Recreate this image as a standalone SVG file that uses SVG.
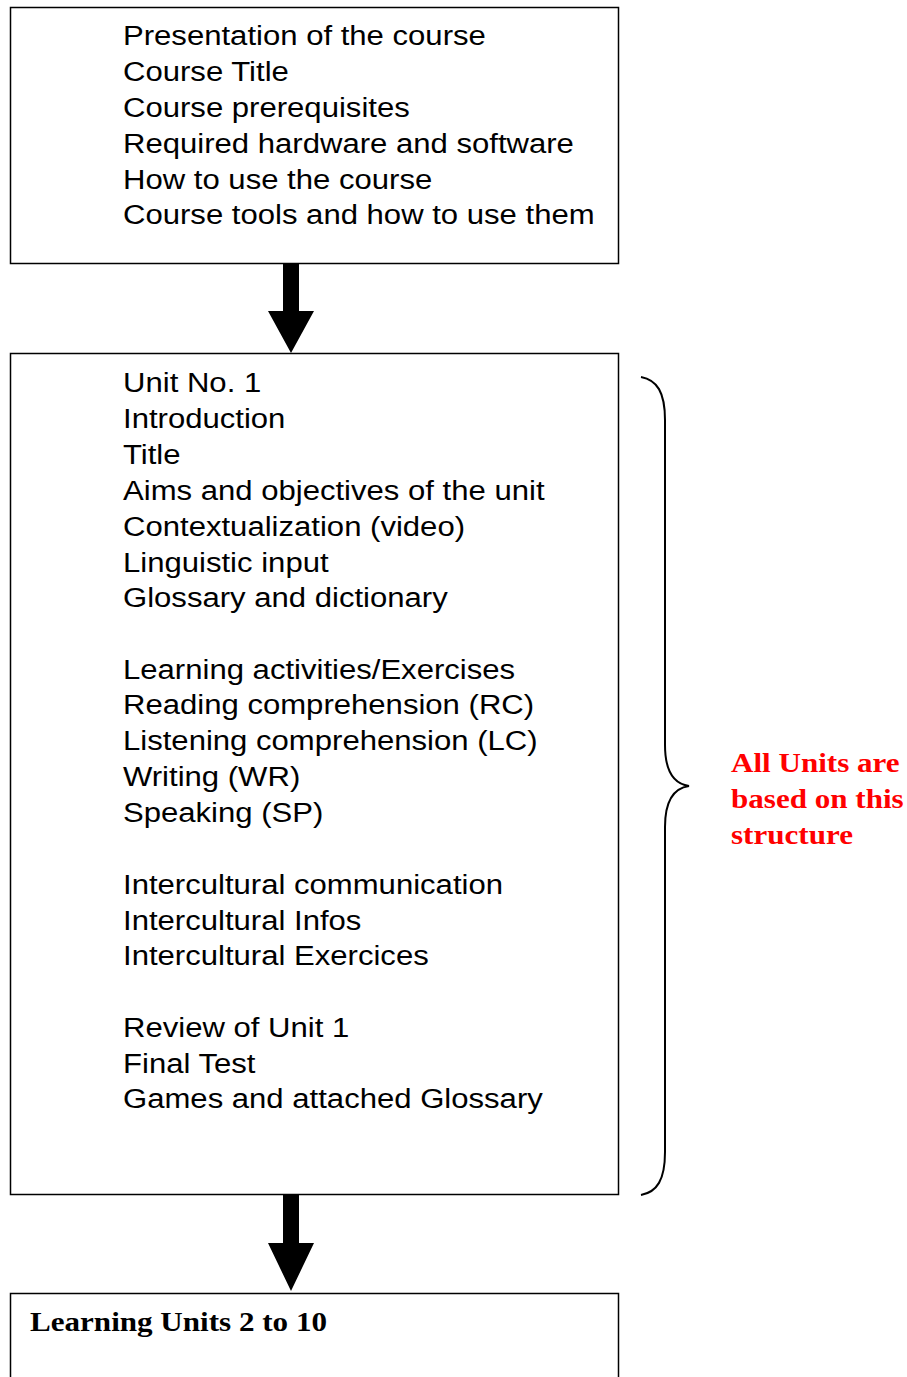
<svg xmlns="http://www.w3.org/2000/svg" width="907" height="1377" viewBox="0 0 907 1377">
<style>
.box{fill:#fff;stroke:#000;stroke-width:1.5}
.t{font-family:"Liberation Sans",Arial,sans-serif;font-size:28px;fill:#000}
.r{font-family:"Liberation Serif","Times New Roman",serif;font-size:28px;font-weight:bold;fill:#ff0000}
.b{font-family:"Liberation Serif","Times New Roman",serif;font-size:28px;font-weight:bold;fill:#000}
</style>
<rect width="907" height="1377" fill="#fff"/>
<g id="connectors">
<polygon points="283,264 299,264 299,311 314,311 291,353 268,311 283,311" fill="#000"/>
<polygon points="283,1195 299,1195 299,1243 314,1243 291,1291 268,1243 283,1243" fill="#000"/>
</g>
<g id="node-course">
<rect class="box" x="10.5" y="7.5" width="608" height="256"/>
<g transform="translate(123,0) scale(1.11,1)">
<text class="t" x="0" y="45">Presentation of the course</text>
<text class="t" x="0" y="81">Course Title</text>
<text class="t" x="0" y="117">Course prerequisites</text>
<text class="t" x="0" y="153">Required hardware and software</text>
<text class="t" x="0" y="189">How to use the course</text>
<text class="t" x="0" y="224">Course tools and how to use them</text>
</g>
</g>
<g id="node-unit1">
<rect class="box" x="10.5" y="353.5" width="608" height="841"/>
<g transform="translate(123,0) scale(1.11,1)">
<text class="t" x="0" y="392">Unit No. 1</text>
<text class="t" x="0" y="428">Introduction</text>
<text class="t" x="0" y="464">Title</text>
<text class="t" x="0" y="500">Aims and objectives of the unit</text>
<text class="t" x="0" y="536">Contextualization (video)</text>
<text class="t" x="0" y="572">Linguistic input</text>
<text class="t" x="0" y="607">Glossary and dictionary</text>
<text class="t" x="0" y="679">Learning activities/Exercises</text>
<text class="t" x="0" y="714">Reading comprehension (RC)</text>
<text class="t" x="0" y="750">Listening comprehension (LC)</text>
<text class="t" x="0" y="786">Writing (WR)</text>
<text class="t" x="0" y="822">Speaking (SP)</text>
<text class="t" x="0" y="894">Intercultural communication</text>
<text class="t" x="0" y="930">Intercultural Infos</text>
<text class="t" x="0" y="965">Intercultural Exercices</text>
<text class="t" x="0" y="1037">Review of Unit 1</text>
<text class="t" x="0" y="1073">Final Test</text>
<text class="t" x="0" y="1108">Games and attached Glossary</text>
</g>
</g>
<g id="node-brace">
<path d="M641,377 C657,380 665,392 665,420 L665,745 C665,772 675,784 689,786 C675,788 665,800 665,827 L665,1152 C665,1180 657,1192 641,1195" fill="none" stroke="#000" stroke-width="2"/>
<g transform="translate(731,0) scale(1.11,1)">
<text class="r" x="0" y="772">All Units are</text>
<text class="r" x="0" y="808">based on this</text>
<text class="r" x="0" y="844">structure</text>
</g>
</g>
<g id="node-units">
<rect class="box" x="10.5" y="1293.5" width="608" height="100"/>
<g transform="translate(30,0) scale(1.11,1)">
<text class="b" x="0" y="1331">Learning Units 2 to 10</text>
</g>
</g>
</svg>
